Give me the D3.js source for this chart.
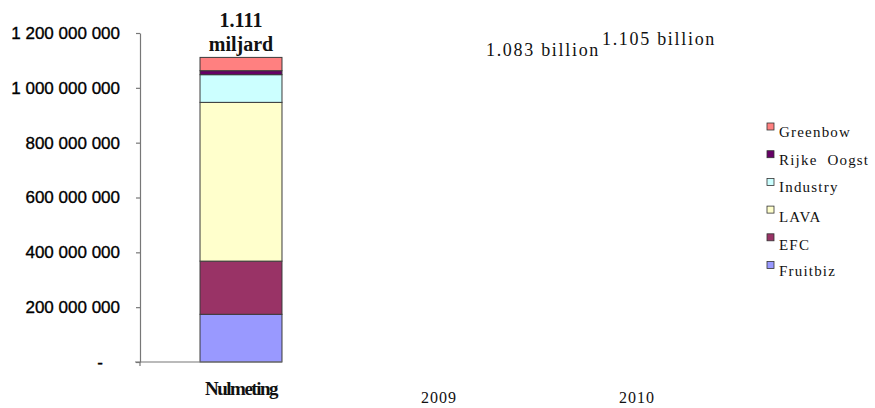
<!DOCTYPE html>
<html>
<head>
<meta charset="utf-8">
<script src="https://cdn.jsdelivr.net/npm/d3@7"></script>
<style>
  html, body { margin: 0; padding: 0; background: #fff; }
  svg { display: block; }
</style>
</head>
<body>
<svg id="chart" width="875" height="408"></svg>
<script>
// Categories on the x axis
const categories = ["Nulmeting", "2009", "2010"];

// Stacked series (bottom to top) for the Nulmeting column
const seriesNames = ["Fruitbiz", "EFC", "LAVA", "Industry", "Rijke Oogst", "Greenbow"];
const fruitbiz   = [174000000, null, null];
const efc        = [194000000, null, null];
const lava       = [579000000, null, null];
const industry   = [101000000, null, null];
const rijkeOogst = [14500000, null, null];
const greenbow   = [48500000, null, null];

// Totals written above each column
const totals      = [1111000000, 1083000000, 1105000000];
const totalLabels = [["1.111", "miljard"], ["1.083 billion"], ["1.105 billion"]];

// Y axis ticks
const yTicks = [0, 200000000, 400000000, 600000000, 800000000, 1000000000, 1200000000];

const colors = {
  "Fruitbiz": "#9999FF",
  "EFC": "#993366",
  "LAVA": "#FFFFCC",
  "Industry": "#CCFFFF",
  "Rijke Oogst": "#660066",
  "Greenbow": "#FF8080"
};

const seriesValues = [fruitbiz, efc, lava, industry, rijkeOogst, greenbow];
const rows = categories.map((c, i) => {
  const r = { category: c };
  seriesNames.forEach((s, j) => { r[s] = seriesValues[j][i] || 0; });
  return r;
});

const svg = d3.select("#chart");
const axisX = 140, baseY = 362, topY = 33;

const y = d3.scaleLinear().domain([0, 1200000000]).range([baseY, topY]);
const x = d3.scaleBand().domain(categories).range([142, 736])
  .paddingInner(0.586).paddingOuter(0.293);

// Y axis
const fmt = v => v === 0 ? "-" : d3.format(",")(v).replace(/,/g, " ");
const yAxis = svg.append("g")
  .attr("transform", `translate(${axisX},0)`)
  .call(d3.axisLeft(y).tickValues(yTicks).tickFormat(fmt).tickSize(4).tickSizeOuter(0).tickPadding(16));
yAxis.select(".domain").attr("stroke", "#777").attr("stroke-width", 1.2);
yAxis.selectAll(".tick line").attr("stroke", "#777").attr("stroke-width", 1.2);
yAxis.selectAll(".tick text")
  .attr("font-family", "'Liberation Sans', Arial, Helvetica, sans-serif")
  .attr("font-size", 17)
  .attr("fill", "#000")
  .attr("stroke", "#000")
  .attr("stroke-width", 0.35)
  .attr("dx", d => d === 0 ? -17 : 0);
// Axis line continues a few pixels below the baseline
svg.append("line")
  .attr("x1", axisX).attr("x2", axisX)
  .attr("y1", y(0)).attr("y2", y(0) + 4)
  .attr("stroke", "#777").attr("stroke-width", 1.2);

// Stacked bars
const stack = d3.stack().keys(seriesNames)(rows);
svg.append("g").selectAll("g")
  .data(stack)
  .join("g")
  .attr("fill", d => colors[d.key])
  .selectAll("rect")
  .data(d => d.filter(p => p[1] > p[0]))
  .join("rect")
  .attr("x", d => x(d.data.category))
  .attr("width", x.bandwidth())
  .attr("y", d => y(d[1]))
  .attr("height", d => y(d[0]) - y(d[1]))
  .attr("stroke", "#3a3a3a")
  .attr("stroke-width", 1);

// Baseline under the plotted column
svg.append("line")
  .attr("x1", axisX - 5)
  .attr("x2", x(categories[0]) + x.bandwidth())
  .attr("y1", y(0)).attr("y2", y(0))
  .attr("stroke", "#777").attr("stroke-width", 1.2);

// X axis labels
const xAxis = svg.append("g")
  .attr("transform", `translate(0,${baseY})`)
  .call(d3.axisBottom(x).tickSize(0).tickPadding(0));
xAxis.select(".domain").remove();
xAxis.selectAll(".tick text")
  .attr("font-family", "'Liberation Serif', 'Times New Roman', serif")
  .attr("fill", "#111")
  .attr("dy", null)
  .each(function(d, i) {
    const t = d3.select(this);
    if (i === 0) {
      t.attr("y", 33).attr("font-size", 19).attr("font-weight", "bold")
       .attr("letter-spacing", -1.5);
    } else {
      t.attr("y", 41).attr("font-size", 16).attr("letter-spacing", 1);
    }
  });

// Total labels above columns
const labelShift = [[0, -6], [104, -9], [22, -14]];
const tl = svg.append("g");
totals.forEach((v, i) => {
  const cx = x(categories[i]) + x.bandwidth() / 2 + labelShift[i][0];
  const lines = totalLabels[i];
  const t = tl.append("text")
    .attr("text-anchor", "middle")
    .attr("font-family", "'Liberation Serif', 'Times New Roman', serif")
    .attr("fill", "#111");
  if (lines.length > 1) {
    t.attr("font-size", 20).attr("font-weight", "bold");
    lines.forEach((s, k) => {
      t.append("tspan").attr("x", cx)
        .attr("y", y(v) + labelShift[i][1] - (lines.length - 1 - k) * 24)
        .text(s);
    });
  } else {
    t.attr("font-size", 18).attr("letter-spacing", 1.7)
      .attr("x", cx).attr("y", y(v) + labelShift[i][1]).text(lines[0]);
  }
});

// Legend (top entry first)
const legend = svg.append("g").attr("transform", "translate(767,123)");
const items = legend.selectAll("g")
  .data(seriesNames.slice().reverse())
  .join("g")
  .attr("transform", (d, i) => `translate(0,${i * 27.7})`);
items.append("rect")
  .attr("width", 7).attr("height", 7)
  .attr("fill", d => colors[d])
  .attr("stroke", "#333").attr("stroke-width", 0.8);
items.append("text")
  .attr("x", 12).attr("y", d => (d === "LAVA" || d === "EFC") ? 16 : 14)
  .attr("font-family", "'Liberation Serif', 'Times New Roman', serif")
  .attr("font-size", 15)
  .attr("letter-spacing", 1.2)
  .attr("fill", "#111")
  .attr("xml:space", "preserve")
  .style("white-space", "pre")
  .text(d => d === "Rijke Oogst" ? "Rijke  Oogst" : d);
</script>
</body>
</html>
